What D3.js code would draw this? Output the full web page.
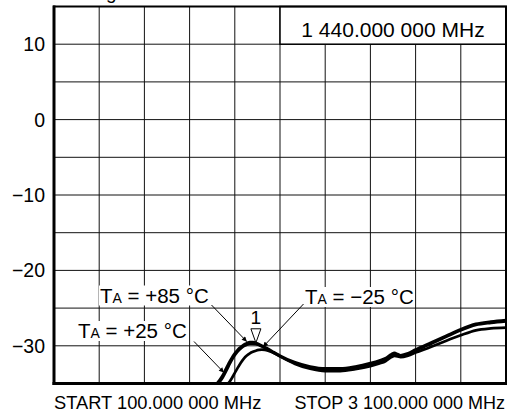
<!DOCTYPE html>
<html>
<head>
<meta charset="utf-8">
<script src="https://cdn.jsdelivr.net/npm/d3@7"></script>
<style>
  body { margin: 0; background: #fff; }
  svg { display: block; }
  text { font-family: "Liberation Sans", Arial, Helvetica, sans-serif; fill: #000; }
</style>
</head>
<body>
<svg id="chart" width="509" height="415"></svg>
<script>
// Sweep frequencies (MHz) and gain traces (dB) at three ambient temperatures
const freqMHz = [100, 500, 800, 860, 1000, 1150, 1180, 1200, 1220, 1240, 1260, 1280, 1300, 1320, 1340, 1360, 1380, 1400, 1420, 1440, 1460, 1480, 1500, 1520, 1560, 1600, 1700, 1800, 1900, 2000, 2100, 2200, 2260, 2300, 2340, 2360, 2380, 2400, 2450, 2500, 2600, 2700, 2800, 2900, 3000, 3100];
const gainP85 = [-44, -42, -38, -35.2, -35.2, -35.2, -35.0, -34.5, -33.9, -33.1, -32.3, -31.6, -31.0, -30.5, -30.15, -29.85, -29.65, -29.5, -29.5, -29.6, -29.8, -30.0, -30.2, -30.4, -30.85, -31.3, -32.2, -32.75, -33.0, -33.0, -32.75, -32.3, -31.95, -31.65, -31.1, -30.95, -31.1, -31.25, -31.0, -30.5, -29.6, -28.7, -27.8, -27.1, -26.8, -26.6];
const gainP25 = [-44, -42, -38, -35.2, -35.2, -35.2, -35.1, -34.75, -34.2, -33.45, -32.65, -31.9, -31.25, -30.75, -30.35, -30.05, -29.85, -29.7, -29.7, -29.75, -29.9, -30.1, -30.3, -30.5, -30.95, -31.4, -32.3, -32.9, -33.15, -33.15, -32.9, -32.45, -32.1, -31.8, -31.25, -31.1, -31.25, -31.4, -31.15, -30.65, -29.75, -28.85, -27.95, -27.25, -26.95, -26.75];
const gainM25 = [-44, -42, -38, -35.2, -35.2, -35.2, -35.2, -35.2, -35.2, -35.15, -34.9, -34.3, -33.6, -32.9, -32.25, -31.7, -31.3, -31.0, -30.8, -30.65, -30.55, -30.5, -30.55, -30.65, -30.95, -31.4, -32.4, -33.05, -33.35, -33.35, -33.1, -32.7, -32.35, -32.05, -31.5, -31.35, -31.4, -31.5, -31.3, -30.9, -30.15, -29.35, -28.6, -27.95, -27.7, -27.6];

const yTicks = [10, 0, -10, -20, -30];
const markerFreq = 1440;
const markerReadout = "1 440.000 000 MHz";
const startLabel = "START 100.000 000 MHz";
const stopLabel = "STOP 3 100.000 000 MHz";

// Trace labels with the point each arrow aims at (MHz, dB)
const traceNotes = [
  { temp: "+85 °C", x: 100, y: 302.5, from: [211.5, 305], tip: [1380, -29.45] },
  { temp: "+25 °C", x: 78,  y: 338,   from: [194, 341.5], tip: [1228, -33.55] },
  { temp: "−25 °C", x: 305, y: 304,   from: [303.5, 304], tip: [1487, -30.15] }
];

const svg = d3.select("#chart");
const W = 509, H = 415;
const plot = { left: 54, right: 506, top: 6.5, bottom: 383.5 };

const x = d3.scaleLinear().domain([100, 3100]).range([plot.left, plot.right]);
const y = d3.scaleLinear().domain([-35, 15]).range([plot.bottom, plot.top]);

svg.append("rect").attr("width", W).attr("height", H).attr("fill", "#fff");

// Title line sits above the top edge; only its descender reaches the page
svg.append("text")
  .attr("x", 116.5).attr("y", -1)
  .attr("text-anchor", "end")
  .style("font-size", "19px")
  .text("Log");

// Grid: 10 × 10 divisions
const xGrid = d3.range(1, 10).map(i => 100 + i * 300);
const yGrid = d3.range(1, 10).map(i => -35 + i * 5);
const grid = svg.append("g").attr("stroke", "#111").attr("stroke-width", 1);
grid.selectAll("line.v").data(xGrid).join("line")
  .attr("class", "v")
  .attr("x1", d => x(d)).attr("x2", d => x(d))
  .attr("y1", plot.top).attr("y2", plot.bottom);
grid.selectAll("line.h").data(yGrid).join("line")
  .attr("class", "h")
  .attr("x1", plot.left).attr("x2", plot.right)
  .attr("y1", d => y(d)).attr("y2", d => y(d));

// Marker readout box in the top-right cells
svg.append("rect")
  .attr("x", x(1600)).attr("y", plot.top)
  .attr("width", plot.right - x(1600)).attr("height", y(10) - plot.top)
  .attr("fill", "#fff").attr("stroke", "#000").attr("stroke-width", 1.5);
svg.append("text")
  .attr("x", (x(1600) + plot.right) / 2).attr("y", 36.5)
  .attr("text-anchor", "middle")
  .style("font-size", "21px")
  .text(markerReadout);

// Traces
svg.append("clipPath").attr("id", "plotClip")
  .append("rect")
  .attr("x", plot.left).attr("y", plot.top)
  .attr("width", plot.right - plot.left).attr("height", plot.bottom - plot.top);

const line = d3.line()
  .x((d, i) => x(freqMHz[i]))
  .y(d => y(d))
  .curve(d3.curveMonotoneX);

const traces = svg.append("g").attr("clip-path", "url(#plotClip)");
[gainM25, gainP25, gainP85].forEach(series => {
  traces.append("path")
    .datum(series)
    .attr("d", line)
    .attr("fill", "none")
    .attr("stroke", "#000")
    .attr("stroke-width", 2.7)
    .attr("stroke-linejoin", "round");
});

// Frame
svg.append("rect")
  .attr("x", plot.left).attr("y", plot.top)
  .attr("width", plot.right - plot.left).attr("height", plot.bottom - plot.top)
  .attr("fill", "none").attr("stroke", "#000").attr("stroke-width", 2);
svg.append("line")
  .attr("x1", plot.left).attr("x2", plot.left)
  .attr("y1", plot.top - 1).attr("y2", plot.bottom + 1.5)
  .attr("stroke", "#000").attr("stroke-width", 3);
svg.append("line")
  .attr("x1", plot.left - 1.5).attr("x2", plot.right + 1)
  .attr("y1", plot.bottom).attr("y2", plot.bottom)
  .attr("stroke", "#000").attr("stroke-width", 3);

// Y axis labels
const fmt = d3.format("d");
svg.selectAll("text.ylab").data(yTicks).join("text")
  .attr("class", "ylab")
  .attr("x", 45)
  .attr("y", d => y(d) + 7)
  .attr("text-anchor", "end")
  .style("font-size", "19.5px")
  .text(d => fmt(d));

// Start / stop frequency labels
svg.append("text")
  .attr("x", plot.left).attr("y", 409)
  .style("font-size", "18.3px")
  .text(startLabel);
svg.append("text")
  .attr("x", 505).attr("y", 409)
  .attr("text-anchor", "end")
  .style("font-size", "18px")
  .text(stopLabel);

// Marker 1 on the +85 °C trace
const mIdx = freqMHz.indexOf(markerFreq);
const mx = x(markerFreq), my = y(gainP85[mIdx]);
svg.append("path")
  .attr("d", `M${mx - 5},${my - 14} L${mx + 5},${my - 14} L${mx},${my} Z`)
  .attr("fill", "#fff").attr("stroke", "#000").attr("stroke-width", 1);
svg.append("text")
  .attr("x", mx).attr("y", my - 18.5)
  .attr("text-anchor", "middle")
  .style("font-size", "19px")
  .text("1");

// Temperature labels with arrows
const defs = svg.append("defs");
defs.append("marker")
  .attr("id", "arrowHead")
  .attr("viewBox", "0 0 10 10")
  .attr("refX", 10).attr("refY", 5)
  .attr("markerUnits", "userSpaceOnUse")
  .attr("markerWidth", 10).attr("markerHeight", 5)
  .attr("orient", "auto")
  .append("path").attr("d", "M0,0 L10,5 L0,10 Z").attr("fill", "#000");

traceNotes.forEach(n => {
  const g = svg.append("g");
  const bg = g.append("rect").attr("fill", "#fff");
  const t = g.append("text")
    .attr("x", n.x).attr("y", n.y)
    .style("font-size", "20.5px");
  t.append("tspan").text("T");
  t.append("tspan").style("font-size", "14px").text("A");
  t.append("tspan").text(" = " + n.temp);
  const bb = t.node().getBBox();
  bg.attr("x", bb.x - 1).attr("y", bb.y + 2)
    .attr("width", bb.width + 2).attr("height", bb.height - 3);
  svg.append("line")
    .attr("x1", n.from[0]).attr("y1", n.from[1])
    .attr("x2", x(n.tip[0])).attr("y2", y(n.tip[1]))
    .attr("stroke", "#000").attr("stroke-width", 1)
    .attr("marker-end", "url(#arrowHead)");
});
</script>
</body>
</html>
